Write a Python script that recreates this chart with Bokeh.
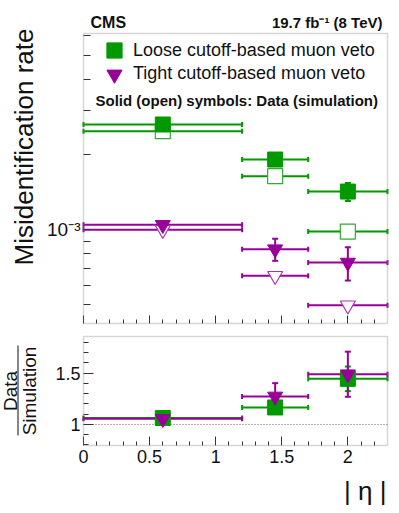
import math
from bokeh.plotting import figure
from bokeh.models import (Range1d, FixedTicker, Whisker, TeeHead, ColumnDataSource,
                          Label, Legend, LegendItem, LinearAxis, LogAxis, LogScale,
                          BoxAnnotation)
from bokeh.embed import file_html
from bokeh.resources import INLINE

# ---------------- data ----------------
eta_center = [0.6, 1.45, 2.0]
eta_low = [0.0, 1.2, 1.7]
eta_high = [1.2, 1.7, 2.3]

loose_data = [2.645e-3, 1.914e-3, 1.424e-3]
loose_data_err = [0.04e-3, 0.07e-3, 0.118e-3]
loose_sim = [2.486e-3, 1.641e-3, 0.984e-3]
loose_sim_err = [0.01e-3, 0.01e-3, 0.01e-3]

tight_data = [1.047e-3, 0.836e-3, 0.739e-3]
tight_data_err = [0.03e-3, 0.085e-3, 0.113e-3]
tight_sim = [1.0e-3, 0.654e-3, 0.498e-3]
tight_sim_err = [0.01e-3, 0.01e-3, 0.01e-3]

loose_ratio = [1.063, 1.166, 1.445]
loose_ratio_err = [0.03, 0.06, 0.12]
tight_ratio = [1.055, 1.273, 1.49]
tight_ratio_err = [0.04, 0.13, 0.22]
ratio_ref = [1.0]

x_tick_vals = [0, 0.5, 1, 1.5, 2]
x_tick_labels = ["0", "0.5", "1", "1.5", "2"]
x_minor_vals = [0.1, 0.2, 0.3, 0.4, 0.6, 0.7, 0.8, 0.9, 1.1, 1.2, 1.3, 1.4,
                1.6, 1.7, 1.8, 1.9, 2.1, 2.2]
y_top_major = [1e-3]
y_top_labels = ["10\u207b\u00b3"]
y_top_minor = [5e-4, 6e-4, 7e-4, 8e-4, 9e-4, 2e-3, 3e-3, 4e-3, 5e-3, 6e-3]
ratio_tick_vals = [1, 1.5]
ratio_tick_labels = ["1", "1.5"]
ratio_minor_vals = [0.8, 0.9, 1.1, 1.2, 1.3, 1.4, 1.6, 1.7, 1.8]

legend_labels = ["Loose cutoff-based muon veto", "Tight cutoff-based muon veto"]
note_text = "Solid (open) symbols: Data (simulation)"

# ---------------- axis ranges of the two panels ----------------
X_MIN, X_MAX = 0.0, 2.3
Y1_MIN, Y1_MAX = 4.21e-4, 6.13e-3      # top panel (log)
Y2_MIN, Y2_MAX = 0.795, 1.858          # ratio panel (linear)

# ---------------- layout (pixels on the canvas) ----------------
W, H = 396, 510
PX_L, PX_R = 83, 387                  # panel left / right
P1_T, P1_B = 33, 323                  # top panel top / bottom
P2_T, P2_B = 336, 445                 # ratio panel top / bottom

kx = (PX_R - PX_L) / (X_MAX - X_MIN)
x_start = X_MIN - PX_L / kx
x_end = X_MAX + (W - PX_R) / kx
k2 = (P2_B - P2_T) / (Y2_MAX - Y2_MIN)
y2_end = Y2_MAX + P2_T / k2
y2_start = Y2_MIN - (H - P2_B) / k2
d1 = (math.log10(Y1_MAX) - math.log10(Y1_MIN)) / (P1_B - P1_T)
y1_end = 10 ** (math.log10(Y1_MAX) + P1_T * d1)
y1_start = 10 ** (math.log10(Y1_MIN) - (H - P1_B) * d1)

# ---------------- style ----------------
FONT = "Liberation Sans"
GREEN = "#009900"
PURPLE = "#990099"
GREEN_OPEN = "#33aa33"
PURPLE_OPEN = "#aa33aa"
TICK = "#333333"
FRAME = "#777777"
TXT = "#111111"

p = figure(width=W, height=H, x_range=Range1d(x_start, x_end),
           y_range=Range1d(y2_start, y2_end),
           extra_y_ranges={"top": Range1d(y1_start, y1_end)},
           extra_y_scales={"top": LogScale()},
           x_axis_type=None, y_axis_type=None,
           output_backend="svg", toolbar_location=None,
           min_border_left=0, min_border_right=0, min_border_top=0, min_border_bottom=0)
p.outline_line_color = None
p.background_fill_color = "white"
p.border_fill_color = "white"


def style_axis(ax, size="18px"):
    ax.axis_line_color = None
    ax.major_tick_out = 0
    ax.minor_tick_out = 0
    ax.major_tick_in = 0
    ax.minor_tick_in = 0
    ax.major_label_standoff = 0
    ax.major_tick_line_color = TICK
    ax.minor_tick_line_color = TICK
    ax.major_label_text_font = FONT
    ax.major_label_text_font_size = size
    ax.major_label_text_color = TXT


def text(x, y, s, size, dx=0, dy=0, angle=0.0, align="left", bold=False, rname="default"):
    p.add_layout(Label(x=x, y=y, y_range_name=rname, x_offset=dx, y_offset=dy,
                       angle=angle, text=s, text_font=FONT,
                       text_font_style="bold" if bold else "normal",
                       text_font_size=size, text_align=align, text_baseline="middle",
                       text_color=TXT))


# ----- axes of the top panel -----
ay1 = LogAxis(y_range_name="top", fixed_location=X_MIN,
              ticker=FixedTicker(ticks=y_top_major, minor_ticks=y_top_minor),
              major_label_overrides=dict(zip(y_top_major, y_top_labels)))
style_axis(ay1, "19px")
ay1.major_tick_in = 7
ay1.minor_tick_in = 7
ay1.major_label_standoff = 3
p.add_layout(ay1, "left")

ax1_minor = LinearAxis(y_range_name="top", fixed_location=Y1_MIN,
                       ticker=FixedTicker(ticks=[], minor_ticks=x_minor_vals))
style_axis(ax1_minor)
ax1_minor.minor_tick_in = 4
p.add_layout(ax1_minor, "below")
ax1_major = LinearAxis(y_range_name="top", fixed_location=Y1_MIN,
                       ticker=FixedTicker(ticks=[], minor_ticks=x_tick_vals))
style_axis(ax1_major)
ax1_major.minor_tick_in = 8
p.add_layout(ax1_major, "below")

# ----- axes of the ratio panel -----
ay2 = LinearAxis(fixed_location=X_MIN,
                 ticker=FixedTicker(ticks=ratio_tick_vals, minor_ticks=ratio_minor_vals),
                 major_label_overrides=dict(zip(ratio_tick_vals, ratio_tick_labels)))
style_axis(ay2)
ay2.major_tick_in = 10
ay2.minor_tick_in = 5
ay2.major_label_standoff = 3
p.add_layout(ay2, "left")

ax2 = LinearAxis(fixed_location=Y2_MIN,
                 ticker=FixedTicker(ticks=x_tick_vals, minor_ticks=x_minor_vals),
                 major_label_overrides=dict(zip(x_tick_vals, x_tick_labels)))
style_axis(ax2)
ax2.major_tick_in = 9
ax2.minor_tick_in = 4
ax2.major_label_standoff = 4
p.add_layout(ax2, "below")


def hbars(y, color, rname):
    src = ColumnDataSource(dict(base=y, lower=eta_low, upper=eta_high))
    p.add_layout(Whisker(source=src, base="base", lower="lower", upper="upper",
                         dimension="width", line_color=color, line_width=2,
                         level="underlay", y_range_name=rname,
                         lower_head=TeeHead(size=5, line_color=color, line_width=2),
                         upper_head=TeeHead(size=5, line_color=color, line_width=2)))


def vbars(y, err, color, rname):
    src = ColumnDataSource(dict(base=eta_center,
                                lower=[v - e for v, e in zip(y, err)],
                                upper=[v + e for v, e in zip(y, err)]))
    p.add_layout(Whisker(source=src, base="base", lower="lower", upper="upper",
                         dimension="height", line_color=color, line_width=2,
                         level="underlay", y_range_name=rname,
                         lower_head=TeeHead(size=6, line_color=color, line_width=2),
                         upper_head=TeeHead(size=6, line_color=color, line_width=2)))


# ---------------- top panel content ----------------
for y, err, col in [(loose_sim, loose_sim_err, GREEN), (loose_data, loose_data_err, GREEN),
                    (tight_sim, tight_sim_err, PURPLE), (tight_data, tight_data_err, PURPLE)]:
    hbars(y, col, "top")
    vbars(y, err, col, "top")

p.scatter(eta_center, loose_sim, marker="square", size=15, fill_color="white",
          line_color=GREEN_OPEN, line_width=1.2, y_range_name="top")
r_ld = p.scatter(eta_center, loose_data, marker="square", size=15, fill_color=GREEN,
                 line_color=GREEN, line_width=1, y_range_name="top")
p.scatter(eta_center, tight_sim, marker="inverted_triangle", size=15, fill_color="white",
          line_color=PURPLE_OPEN, line_width=1.2, y_range_name="top")
r_td = p.scatter(eta_center, tight_data, marker="inverted_triangle", size=15,
                 fill_color=PURPLE, line_color=PURPLE, line_width=1, y_range_name="top")

p.add_layout(BoxAnnotation(left=X_MIN, right=X_MAX, bottom=Y1_MIN, top=Y1_MAX,
                           y_range_name="top", fill_color=None, line_color=FRAME,
                           line_width=1.5))

# legend (one box per entry, glyph centred at 114 px, rows at 50 / 73.5 px)
for lab, rend, row_y in [(legend_labels[0], r_ld, 50), (legend_labels[1], r_td, 73.5)]:
    p.add_layout(Legend(items=[LegendItem(label=lab, renderers=[rend])],
                        location=(114 - 19, H - row_y - 19), orientation="vertical",
                        padding=0, margin=0, spacing=0, glyph_width=38, glyph_height=38,
                        label_standoff=-2, label_text_font=FONT,
                        label_text_font_size="18px", label_text_color=TXT,
                        background_fill_alpha=0, border_line_color=None))

text(X_MIN, Y1_MAX, note_text, "15px", dx=12, dy=-67, bold=True, rname="top")
text(X_MIN, Y1_MAX, "CMS", "16px", dx=7, dy=11, bold=True, rname="top")
text(X_MAX, Y1_MAX, "19.7 fb\u207b\u00b9 (8 TeV)", "15px", dx=-5, dy=11,
     align="right", bold=True, rname="top")
text(X_MIN, Y1_MAX, "Misidentification rate", "26px", dx=-60, dy=5,
     angle=math.pi / 2, align="right", rname="top")

# ---------------- ratio panel content ----------------
p.segment(x0=[X_MIN], x1=[X_MAX], y0=ratio_ref, y1=ratio_ref, line_color="#666666",
          line_dash="1 2", line_width=1)

for y, err, col in [(loose_ratio, loose_ratio_err, GREEN), (tight_ratio, tight_ratio_err, PURPLE)]:
    hbars(y, col, "default")
    vbars(y, err, col, "default")

p.scatter(eta_center, loose_ratio, marker="square", size=15, fill_color=GREEN,
          line_color=GREEN)
p.scatter(eta_center, tight_ratio, marker="inverted_triangle", size=15,
          fill_color=PURPLE, line_color=PURPLE)

p.add_layout(BoxAnnotation(left=X_MIN, right=X_MAX, bottom=Y2_MIN, top=Y2_MAX,
                           fill_color=None, line_color=FRAME, line_width=1.5))

y_mid = (Y2_MIN + Y2_MAX) / 2
text(X_MIN, y_mid, "Data", "19px", dx=-73.5, angle=math.pi / 2, align="center")
text(X_MIN, y_mid, "Simulation", "19px", dx=-54.5, angle=math.pi / 2, align="center")
p.add_layout(BoxAnnotation(left=17, right=18, left_units="screen", right_units="screen",
                           bottom=0.893, top=1.77, fill_color=TXT, fill_alpha=1,
                           line_color=None))
text(X_MAX, Y2_MIN, "| \u03b7 |", "26px", dx=-1, dy=-45.5, align="right")

open("out.html", "w").write(file_html(p, INLINE))
